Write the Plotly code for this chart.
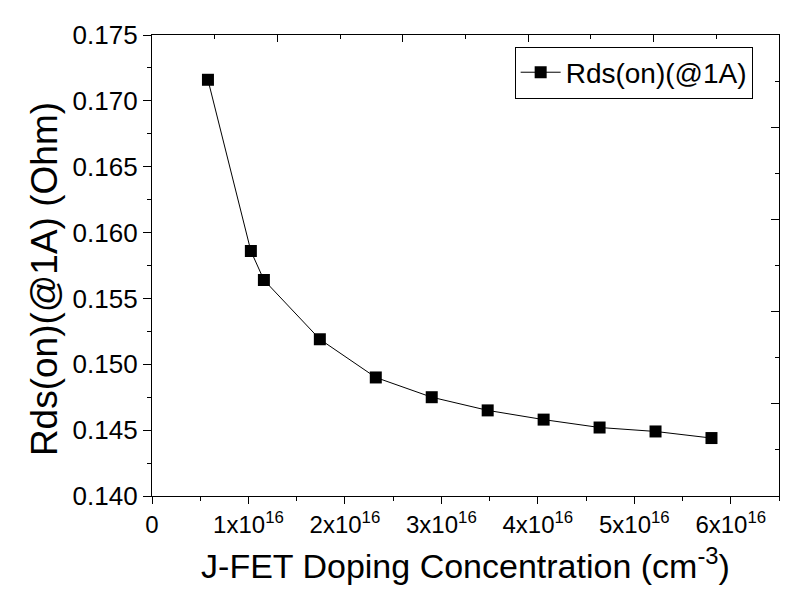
import plotly.graph_objects as go

# Data (doping concentration in units of 1e16 cm^-3, Rds(on) in Ohm)
doping_e16 = [0.58, 1.025, 1.16, 1.74, 2.32, 2.90, 3.48, 4.06, 4.64, 5.22, 5.80]
rds_on = [0.1716, 0.1586, 0.1564, 0.1519, 0.1490, 0.1475, 0.1465, 0.1458, 0.1452, 0.1449, 0.1444]
series_name = "Rds(on)(@1A)"

x_tickvals_e16 = [0, 1, 2, 3, 4, 5, 6]
x_ticktext = ["0"] + [f"{v}x10<sup>16</sup>" for v in range(1, 7)]
y_tickvals = [0.140, 0.145, 0.150, 0.155, 0.160, 0.165, 0.170, 0.175]
x_title = "J-FET Doping Concentration (cm<sup>-3</sup>)"
y_title = "Rds(on)(@1A) (Ohm)"

x_vals = [v * 1e16 for v in doping_e16]
x_ticks = [v * 1e16 for v in x_tickvals_e16]

FONT = "Liberation Sans, Arial, sans-serif"

fig = go.Figure()
fig.add_trace(go.Scatter(
    x=x_vals, y=rds_on, mode="lines+markers", name=series_name,
    line=dict(color="black", width=1),
    marker=dict(symbol="square", size=12, color="black"),
))
# invisible trace to activate mirror axes (top / right)
fig.add_trace(go.Scatter(x=[None], y=[None], xaxis="x2", yaxis="y2",
                         showlegend=False, hoverinfo="skip"))

# page body has an 8px margin, so the figure is 8px smaller than the window
fig.update_layout(
    width=793, height=590, autosize=False,
    paper_bgcolor="white", plot_bgcolor="white",
    margin=dict(l=144, r=22, t=23, b=102),
    font=dict(family=FONT, color="black"),
    xaxis=dict(
        range=[0, 6.5e16], tickvals=x_ticks, ticktext=x_ticktext,
        ticks="outside", ticklen=7, tickwidth=1, tickcolor="black",
        minor=dict(dtick=0.5e16, tick0=0, ticks="outside", ticklen=4, tickcolor="black"),
        showline=True, linecolor="black", linewidth=1.3,
        showgrid=False, zeroline=False,
        tickfont=dict(size=24, family=FONT),
        title=dict(text=x_title, font=dict(size=34, family=FONT), standoff=17),
    ),
    yaxis=dict(
        range=[0.140, 0.175], tickvals=y_tickvals, tickformat=".3f",
        ticks="outside", ticklen=8, tickwidth=1, tickcolor="black",
        minor=dict(dtick=0.0025, tick0=0.140, ticks="outside", ticklen=4, tickcolor="black"),
        showline=True, linecolor="black", linewidth=1.3,
        showgrid=False, zeroline=False,
        tickfont=dict(size=26, family=FONT),
    ),
    xaxis2=dict(
        overlaying="x", side="top", anchor="y", range=[0, 1],
        dtick=0.2, tick0=0, ticks="inside", ticklen=7, tickcolor="black",
        minor=dict(dtick=0.1, tick0=0, ticks="inside", ticklen=4, tickcolor="black"),
        showticklabels=False, showline=True, linecolor="black", linewidth=1.3,
        showgrid=False, zeroline=False,
    ),
    yaxis2=dict(
        overlaying="y", side="right", anchor="x", range=[0, 1],
        dtick=0.2, tick0=0, ticks="inside", ticklen=8, tickcolor="black",
        minor=dict(dtick=0.1, tick0=0, ticks="inside", ticklen=4, tickcolor="black"),
        showticklabels=False, showline=True, linecolor="black", linewidth=1.3,
        showgrid=False, zeroline=False,
    ),
    legend=dict(
        x=0.958, y=0.975, xanchor="right", yanchor="top",
        bordercolor="black", borderwidth=1, bgcolor="white",
        font=dict(size=28, family=FONT),
        itemwidth=40,
    ),
    showlegend=True,
    annotations=[dict(
        text=y_title, textangle=-90, showarrow=False,
        xref="paper", yref="paper", x=-0.171, y=0.47,
        xanchor="center", yanchor="middle",
        font=dict(size=37, family=FONT, color="black"),
    )],
)

fig.write_html("out.html")
